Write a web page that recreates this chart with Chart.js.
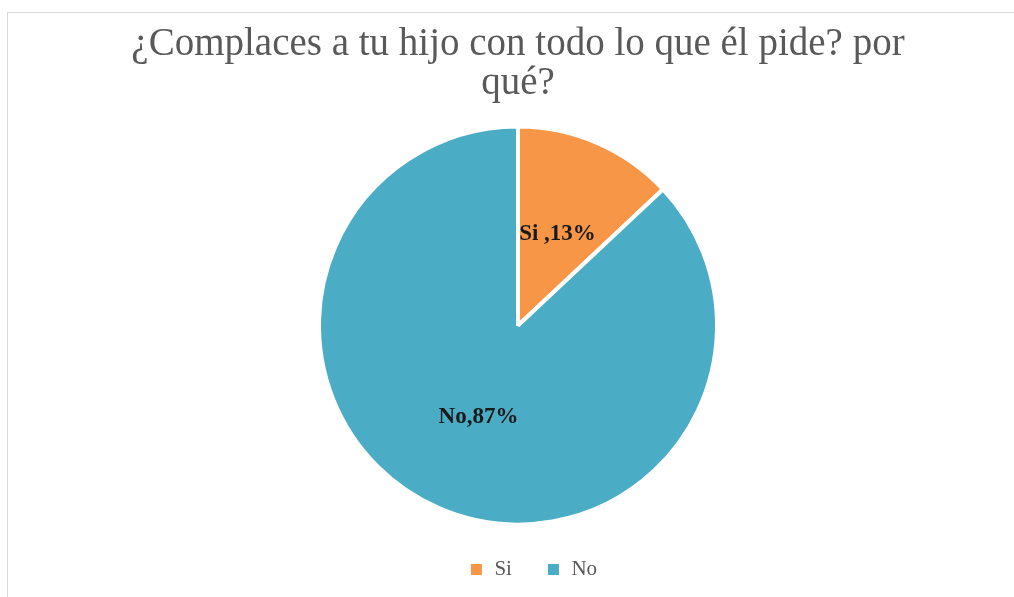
<!DOCTYPE html>
<html lang="es">
<head>
  <meta charset="UTF-8">
  <title>Complaces a tu hijo</title>
  <style>
    html, body { margin: 0; padding: 0; background: #fff; }
    .frame { position: absolute; left: 7px; top: 12px; width: 1007px; height: 585px;
             border-left: 1px solid #d9d9d9; border-top: 1px solid #d9d9d9; }
    .holder { position: absolute; left: 0; top: 0; width: 1014px; height: 597px; }
  </style>
</head>
<body>
<div class="frame"></div>
<div class="holder">
  <canvas id="pieChart" width="1014" height="597"></canvas>
</div>
<script src="https://cdn.jsdelivr.net/npm/chart.js"></script>
<script>
  const categories = ['Si', 'No'];
  const values = [13, 87];
  const sliceLabels = ['Si ,13%', 'No,87%'];
  const colors = ['#F79646', '#4BACC6'];

  // draws the text of each slice half way out from the centre
  const sliceText = {
    id: 'sliceText',
    afterDatasetsDraw(chart) {
      const ctx = chart.ctx;
      const meta = chart.getDatasetMeta(0);
      ctx.save();
      ctx.font = 'bold 23px "Liberation Serif", serif';
      ctx.fillStyle = '#1a1a1a';
      ctx.textAlign = 'center';
      ctx.textBaseline = 'middle';
      meta.data.forEach((arc, i) => {
        const mid = (arc.startAngle + arc.endAngle) / 2;
        const r = arc.outerRadius * 0.5;
        ctx.fillText(sliceLabels[i], arc.x + Math.cos(mid) * r, arc.y + Math.sin(mid) * r);
      });
      ctx.restore();
    }
  };

  // the legend sits a little right of the pie centre in the original
  const legendNudge = {
    id: 'legendNudge',
    afterLayout(chart) {
      chart.legend.left += 15;
      chart.legend.right += 15;
    }
  };

  new Chart(document.getElementById('pieChart'), {
    type: 'pie',
    data: {
      labels: categories,
      datasets: [{
        data: values,
        backgroundColor: colors,
        borderColor: '#ffffff',
        borderWidth: 4,
        radius: 199
      }]
    },
    options: {
      responsive: false,
      animation: false,
      layout: { padding: { left: 22, top: 0, bottom: 7 } },
      plugins: {
        title: {
          display: true,
          text: ['¿Complaces a tu hijo con todo lo que él pide? por', 'qué?'],
          color: '#595959',
          font: { family: '"Liberation Serif", serif', size: 39, weight: 'normal', lineHeight: 1.0 },
          padding: { top: 25, bottom: 23 }
        },
        legend: {
          position: 'bottom',
          labels: {
            color: '#595959',
            font: { family: '"Liberation Serif", serif', size: 21 },
            boxWidth: 15,
            boxHeight: 15,
            padding: 34
          }
        },
        tooltip: { enabled: false }
      }
    },
    plugins: [sliceText, legendNudge]
  });
</script>
</body>
</html>
